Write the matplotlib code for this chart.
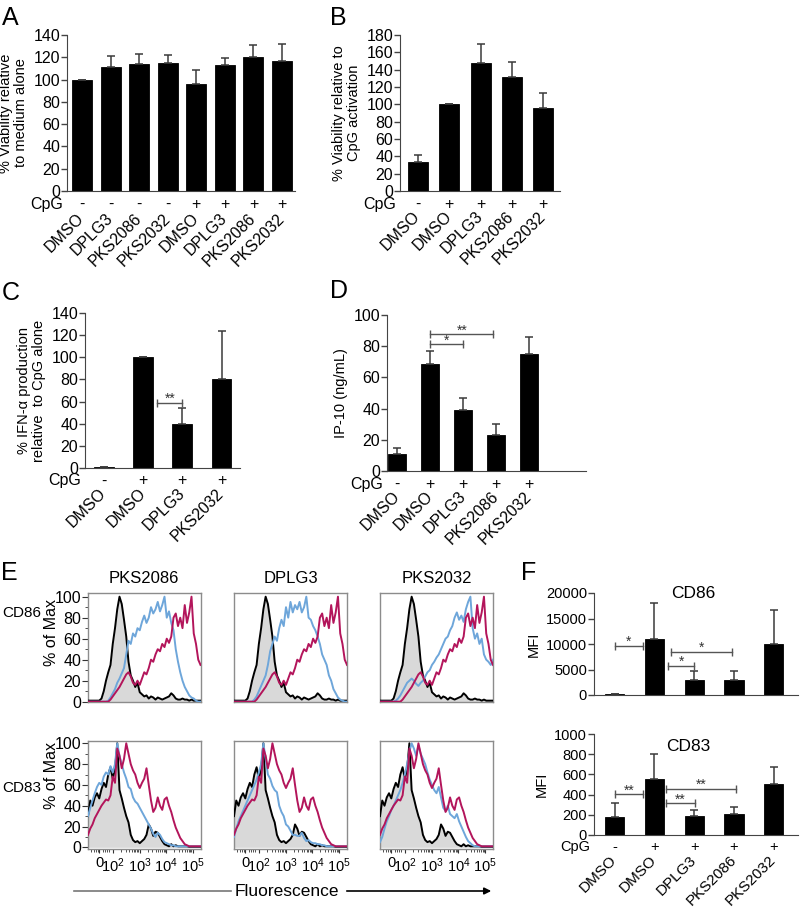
import numpy as np
import matplotlib
matplotlib.use('Agg')
import matplotlib.pyplot as plt
import matplotlib.transforms as mtransforms
from matplotlib.ticker import MultipleLocator, FixedLocator
from matplotlib.lines import Line2D
from matplotlib.patches import FancyArrowPatch

plt.rcParams['font.family'] = ['Liberation Sans', 'DejaVu Sans']
plt.rcParams['mathtext.fontset'] = 'custom'
plt.rcParams['mathtext.rm'] = 'Liberation Sans'
plt.rcParams['mathtext.it'] = 'Liberation Sans:italic'

# ************ DADOS ************
# A - viabilidade relativa ao meio
a_nomes = ['DMSO', 'DPLG3', 'PKS2086', 'PKS2032', 'DMSO', 'DPLG3', 'PKS2086', 'PKS2032']
a_cpg = ['-', '-', '-', '-', '+', '+', '+', '+']
a_vals = [100, 111, 114, 115, 96, 113, 120, 117]
a_err = [0, 10, 9, 7, 13, 6, 11, 15]

# B - viabilidade relativa a CpG
b_nomes = ['DMSO', 'DMSO', 'DPLG3', 'PKS2086', 'PKS2032']
b_cpg = ['-', '+', '+', '+', '+']
b_vals = [33, 100, 148, 131, 96]
b_err = [8, 0, 22, 18, 17]

# C - IFN-alfa
c_nomes = ['DMSO', 'DMSO', 'DPLG3', 'PKS2032']
c_cpg = ['-', '+', '+', '+']
c_vals = [0.5, 100, 39.5, 80]
c_err = [0, 0, 15, 43.5]
c_sig = [(1.36, 2.0, 59, '**')]

# D - IP-10
d_nomes = ['DMSO', 'DMSO', 'DPLG3', 'PKS2086', 'PKS2032']
d_cpg = ['-', '+', '+', '+', '+']
d_vals = [11, 68.7, 38.8, 22.9, 75.2]
d_err = [3.7, 8.4, 8.3, 7.5, 10.5]
d_sig = [(1, 2.91, 87.6, '**'), (1, 1.98, 81.2, '*')]

# F - MFI
f_nomes = ['DMSO', 'DMSO', 'DPLG3', 'PKS2086', 'PKS2032']
f_cpg = ['-', '+', '+', '+', '+']
f86_vals = [200, 11000, 3000, 3000, 10000]
f86_err = [0, 7000, 1700, 1650, 6700]
f86_sig = [(0, 0.72, 9600, '*'), (1.35, 1.99, 5640, '*'), (1.41, 2.96, 8460, '*')]
f83_vals = [182, 554, 191, 208, 502]
f83_err = [132, 248, 53, 66, 168]
f83_sig = [(0, 0.72, 403, '**'), (1.29, 3.05, 455, '**'), (1.29, 2.02, 313, '**')]

# E - histogramas (% of Max), bins ao longo do eixo de fluorescencia
hist_x = np.linspace(0, 1, 51)
e_titulos = ['PKS2086', 'DPLG3', 'PKS2032']
cd86_ctrl = [1, 1, 1, 1, 1, 1, 3, 10, 20, 28, 35, 55, 70, 88, 100, 93, 78, 62, 38, 25, 20,
             14, 18, 9, 7, 5, 6, 3, 5, 4, 2, 4, 3, 2, 3, 4, 5, 8, 6, 3, 2,
             2, 3, 2, 2, 1, 2, 1, 1, 1, 1]
cd86_dmso = [0, 0, 0, 0, 0, 0, 0, 0, 0, 0, 2, 5, 8, 11, 14, 18, 22, 26, 28, 24,
             18, 16, 20, 16, 22, 28, 26, 32, 40, 38, 45, 50, 48, 55, 52, 60, 56, 62, 80, 84,
             72, 80, 70, 92, 75, 85, 100, 65, 55, 40, 35]
cd86_pks2086 = [0, 0, 0, 0, 0, 0, 0, 0, 0, 1, 4, 8, 12, 18, 22, 27, 32, 45, 58, 55,
                65, 62, 70, 68, 76, 82, 75, 80, 90, 84, 88, 95, 86, 92, 100, 80, 86, 75, 68, 50,
                38, 28, 20, 14, 10, 6, 4, 3, 1, 0, 0]
cd86_dplg3 = [0, 0, 0, 0, 0, 0, 0, 0, 0, 2, 5, 10, 15, 20, 25, 35, 48, 55, 62, 58,
              70, 78, 72, 90, 80, 95, 85, 92, 88, 95, 85, 90, 100, 80, 78, 72, 68, 62, 55, 45,
              40, 35, 25, 20, 12, 8, 4, 2, 1, 0, 0]
cd86_pks2032 = [0, 0, 0, 0, 0, 0, 0, 1, 3, 6, 10, 14, 18, 20, 22, 20, 17, 15, 18, 20,
                24, 28, 30, 35, 38, 42, 45, 50, 55, 60, 62, 68, 72, 80, 85, 78, 82, 76, 88, 95,
                100, 70, 60, 65, 55, 60, 45, 40, 38, 35, 40]
cd83_ctrl = [30, 45, 40, 48, 52, 47, 56, 62, 58, 70, 77, 66, 75, 100, 55, 47, 38, 30, 24, 12,
             7, 5, 6, 4, 6, 8, 12, 22, 18, 11, 15, 14, 10, 6, 3, 2, 1, 3, 1, 2,
             1, 1, 1, 1, 1, 0.5, 0.5, 0.5, 0.5, 0.5, 0.5]
cd83_dmso = [12, 18, 22, 28, 32, 36, 40, 43, 46, 45, 50, 68, 62, 95, 88, 76, 85, 100, 90, 80,
             74, 70, 62, 57, 62, 66, 76, 60, 45, 34, 38, 48, 40, 36, 46, 48, 40, 34, 26, 19,
             14, 9, 6, 3, 2, 1, 1, 1, 1, 1, 1]
cd83_pks2086 = [30, 38, 45, 52, 58, 62, 60, 68, 72, 70, 78, 72, 80, 100, 88, 80, 72, 66, 58, 56,
                48, 44, 42, 38, 34, 30, 26, 22, 18, 13, 10, 14, 12, 8, 5, 4, 3, 2, 2, 1,
                1, 1, 1, 1, 1, 1, 1, 1, 1, 1, 1]
cd83_dplg3 = [10, 18, 25, 30, 35, 40, 45, 50, 55, 60, 65, 72, 80, 100, 85, 70, 66, 59, 55, 53,
              40, 34, 30, 22, 20, 16, 12, 12, 11, 11, 14, 9, 6, 7, 5, 4, 4, 3, 3, 2,
              2, 1, 1, 1, 1, 1, 1, 1, 1, 1, 1]
cd83_pks2032 = [5, 10, 18, 25, 30, 36, 40, 45, 50, 55, 62, 70, 80, 92, 100, 95, 88, 98, 90, 85,
                80, 72, 65, 60, 55, 52, 58, 48, 38, 35, 40, 32, 30, 28, 32, 25, 20, 15, 10, 6,
                4, 2, 1, 1, 1, 1, 1, 1, 1, 1, 1]
fluo_lab = ['0', '10$^2$', '10$^3$', '10$^4$', '10$^5$']

fig = plt.figure(figsize=(8.02, 9.09), dpi=100)


def caixa(x0, x1, y0, y1):
    return [x0 / 802, 1 - y1 / 909, (x1 - x0) / 802, (y1 - y0) / 909]


def desloc(dx, dy):
    return mtransforms.ScaledTranslation(dx / 100, dy / 100, fig.dpi_scale_trans)


# ************ FUNCAO DOS GRAFICOS DE BARRAS ************
def barras(pos, nomes, cpg, vals, err, ylim, passo, ylabel, xlim, larg,
           fs=11.5, fs_cat=11.5, pad_cat=23, dx_cat=6, dy_cpg=13, rotulos=True):
    ax = fig.add_axes(pos)
    x = np.arange(len(vals))
    ax.bar(x, vals, width=larg, color='black', edgecolor='black', linewidth=0.6, zorder=2)
    ax.errorbar(x, vals, yerr=[np.zeros(len(err)), err], fmt='none', ecolor='#3a3a3a',
                elinewidth=1.1, capsize=3, capthick=1.1, zorder=3)
    ax.set_xlim(xlim)
    ax.set_ylim(ylim)
    ax.yaxis.set_major_locator(MultipleLocator(passo))
    for s in ['top', 'right']:
        ax.spines[s].set_visible(False)
    for s in ['left', 'bottom']:
        ax.spines[s].set_color('#444444')
    ax.tick_params(axis='y', labelsize=fs, length=4, width=1, color='#444444', pad=1)
    ax.set_ylabel(ylabel, fontsize=10.5, labelpad=4, linespacing=1.05)
    ax.set_xticks(x)
    if rotulos:
        ax.set_xticklabels(nomes, fontsize=fs_cat, rotation=45, ha='right', va='center',
                           rotation_mode='anchor')
        for t in ax.get_xticklabels():
            t.set_transform(t.get_transform() + desloc(dx_cat, 0))
        ax.tick_params(axis='x', length=0, pad=pad_cat * 0.72)
        trans = mtransforms.blended_transform_factory(ax.transData, ax.transAxes) + desloc(0, -dy_cpg)
        for xi, s in zip(x, cpg):
            ax.text(xi, 0, s, transform=trans, ha='center', va='center', fontsize=fs)
        ax.text(0, 0, 'CpG', transform=ax.transAxes + desloc(-4, -dy_cpg),
                ha='right', va='center', fontsize=fs)
    else:
        ax.set_xticklabels([])
        ax.tick_params(axis='x', length=0)
    return ax


def significancia(ax, lista, fs=10):
    for x0, x1, y, txt in lista:
        ax.plot([x0, x1], [y, y], color='#555555', lw=1, marker='|', markersize=6,
                markeredgewidth=1, zorder=4, clip_on=False)
        ax.text((x0 + x1) / 2, y, txt, ha='center', va='bottom', fontsize=fs, color='#333333',
                transform=ax.transData + desloc(0, -3))


# ************ A, B, C, D ************
axA = barras(caixa(67, 295, 35, 191), a_nomes, a_cpg, a_vals, a_err, (0, 140), 20,
             '% Viability relative\nto medium alone', (-0.525, 7.455), 0.70, pad_cat=25)
axB = barras(caixa(400, 560, 35, 191), b_nomes, b_cpg, b_vals, b_err, (0, 180), 20,
             '% Viability relative to\nCpG activation', (-0.576, 4.544), 0.64)
axC = barras(caixa(85, 240, 313, 468), c_nomes, c_cpg, c_vals, c_err, (0, 140), 20,
             '% IFN-α production\nrelative  to CpG alone', (-0.478, 3.47), 0.50)
significancia(axC, c_sig)
axD = barras(caixa(387, 586, 315, 471), d_nomes, d_cpg, d_vals, d_err, (0, 100), 20,
             'IP-10 (ng/mL)', (-0.31, 5.72), 0.53, dx_cat=8)
significancia(axD, d_sig)

# ************ F ************
axF1 = barras(caixa(594, 798, 593, 695), f_nomes, f_cpg, f86_vals, f86_err, (0, 20000), 5000,
              'MFI', (-0.52, 4.61), 0.485, fs=10.5, rotulos=False)
significancia(axF1, f86_sig)
axF1.text(0.486, 1.0, 'CD86', transform=axF1.transAxes, ha='center', va='center', fontsize=12.5)
axF2 = barras(caixa(594, 798, 734, 835), f_nomes, f_cpg, f83_vals, f83_err, (0, 1000), 200,
              'MFI', (-0.52, 4.61), 0.485, fs=10.5, fs_cat=11, pad_cat=23, dx_cat=9, dy_cpg=12)
significancia(axF2, f83_sig)
axF2.text(0.46, 0.874, 'CD83', transform=axF2.transAxes, ha='center', va='center', fontsize=12.5)

# ************ E - HISTOGRAMAS ************
fluo_pos = [0.098, 0.222, 0.458, 0.694, 0.93]
menores = [0.03, 0.05, 0.07, 0.09, 0.13, 0.15, 0.17, 0.19]
for k in range(3):
    for m in range(2, 10):
        menores.append(0.222 + (k + np.log10(m)) * 0.236)

colunas_x = [(88, 200.5), (234, 347), (380, 493)]
linhas = [((593, 702), (-0.3, 103.5), cd86_ctrl, cd86_dmso,
           [cd86_pks2086, cd86_dplg3, cd86_pks2032], 'CD86', 613, 0.637),
          ((741, 849), (-1.6, 102.2), cd83_ctrl, cd83_dmso,
           [cd83_pks2086, cd83_dplg3, cd83_pks2032], 'CD83', 788, 0.676)]

for r, (yy, ylim, ctrl, dmso, comps, marcador, ymarc, ylab_y) in enumerate(linhas):
    for c, (xx, comp) in enumerate(zip(colunas_x, comps)):
        ax = fig.add_axes(caixa(xx[0], xx[1], yy[0], yy[1]))
        ax.fill_between(hist_x, 0, ctrl, color='#d9d9d9', lw=0, zorder=1)
        ax.plot(hist_x, ctrl, color='black', lw=1.4, zorder=3)
        ax.plot(hist_x, comp, color='#6ea6da', lw=1.4, zorder=4)
        ax.plot(hist_x, dmso, color='#b3155b', lw=1.4, zorder=5)
        ax.set_xlim(0, 1)
        ax.set_ylim(ylim)
        for s in ax.spines.values():
            s.set_color('#8c8c8c')
            s.set_linewidth(1)
        if c == 0:
            ax.yaxis.set_major_locator(MultipleLocator(20))
            ax.yaxis.set_minor_locator(MultipleLocator(10))
            ax.tick_params(axis='y', which='both', labelsize=11.5, color='#333333', pad=1)
            ax.tick_params(axis='y', which='major', length=4)
            ax.tick_params(axis='y', which='minor', length=2)
            ax.set_ylabel('% of Max', fontsize=11.5)
            ax.yaxis.set_label_coords(-0.26, ylab_y)
        else:
            ax.set_yticks([])
        if r == 1:
            ax.set_xticks(fluo_pos)
            ax.set_xticklabels(fluo_lab, fontsize=10.5)
            ax.xaxis.set_minor_locator(FixedLocator(menores))
            ax.tick_params(axis='x', which='major', length=3, pad=2, color='#333333')
            ax.tick_params(axis='x', which='minor', length=2, color='#333333')
        else:
            ax.set_xticks([])
            ax.set_title(e_titulos[c], fontsize=12, pad=7)
    fig.text(2 / 802, 1 - ymarc / 909, marcador, fontsize=11, ha='left', va='center')

# seta de fluorescencia
yf = 1 - 891 / 909
fig.add_artist(Line2D([74 / 802, 231 / 802], [yf, yf], color='#777777', lw=1.2,
                      transform=fig.transFigure))
fig.add_artist(FancyArrowPatch((344 / 802, yf), (494 / 802, yf), transform=fig.transFigure,
                               arrowstyle='-|>', mutation_scale=10, color='black', lw=1.2))
fig.text(287 / 802, yf, 'Fluorescence', fontsize=12.5, ha='center', va='center')

# letras dos paineis
for letra, x, y in [('A', 2, 25), ('B', 330, 25), ('C', 2, 300), ('D', 330, 298),
                    ('E', 1, 580), ('F', 521, 580)]:
    fig.text(x / 802, 1 - y / 909, letra, fontsize=18, ha='left', va='baseline')

fig.savefig('out.png', dpi=100)
